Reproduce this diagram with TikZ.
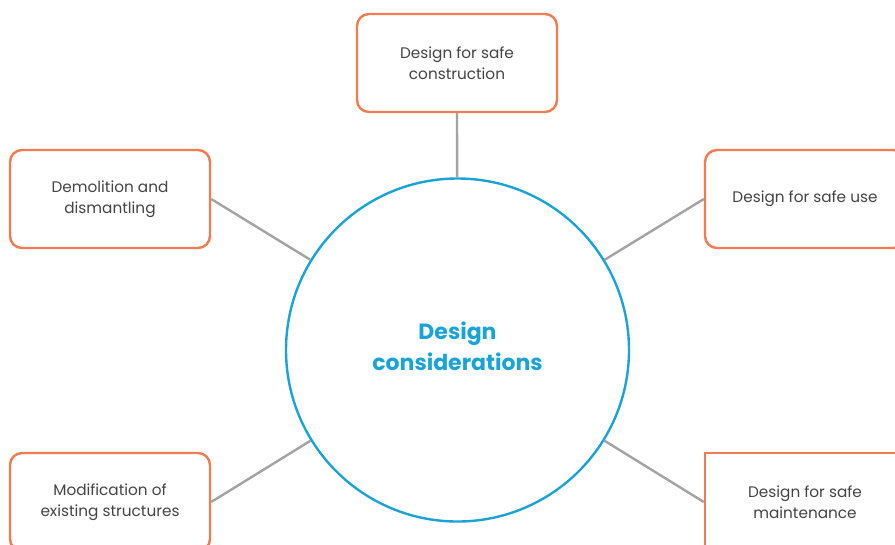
\documentclass[tikz,border=0pt]{standalone}
\usepackage{fontspec}
\setmainfont{Poppins}
\definecolor{boxorange}{HTML}{F47B50}
\definecolor{circblue}{HTML}{1AA3D9}
\definecolor{linegray}{HTML}{A3A3A3}
\definecolor{txtgray}{HTML}{444444}
\begin{document}
\begin{tikzpicture}[x=1pt,y=-1pt,
  topic/.style={draw=boxorange, line width=2.4pt, rounded corners=12pt, minimum width=200pt, minimum height=98pt, align=center, text=txtgray, font=\fontsize{15.3}{21}\selectfont, inner sep=0pt, fill=white},
  link/.style={draw=linegray, line width=2.4pt}]
\useasboundingbox (0,0) rectangle (895,544);
\clip (0,0) rectangle (895,544);
\node[circle, draw=circblue, line width=2.4pt, minimum size=343pt, inner sep=0pt] (c) at (457.5,350) {};
\node[align=center, text=circblue, font=\fontsize{22}{31}\selectfont\bfseries, inner sep=0pt] (ct) at ([yshift=4pt]c.center) {Design\\considerations};
\node[topic] (t) at (457,63) {Design for safe\\construction};
\node[topic] (dl) at (110,199) {Demolition and\\dismantling};
\node[topic] (ur) at (805,199) {Design for safe use};
\node[topic] (ml) at (110,502) {Modification of\\existing structures};
\node[topic, rounded corners=0pt] (mr) at (805,502) {Design for safe\\maintenance};
\draw[link] (t.south) -- (c);
\draw[link] (dl.east) -- (c);
\draw[link] (ur.west) -- (c);
\draw[link] (ml.east) -- (c);
\draw[link] (mr.west) -- (c);
\end{tikzpicture}
\end{document}
